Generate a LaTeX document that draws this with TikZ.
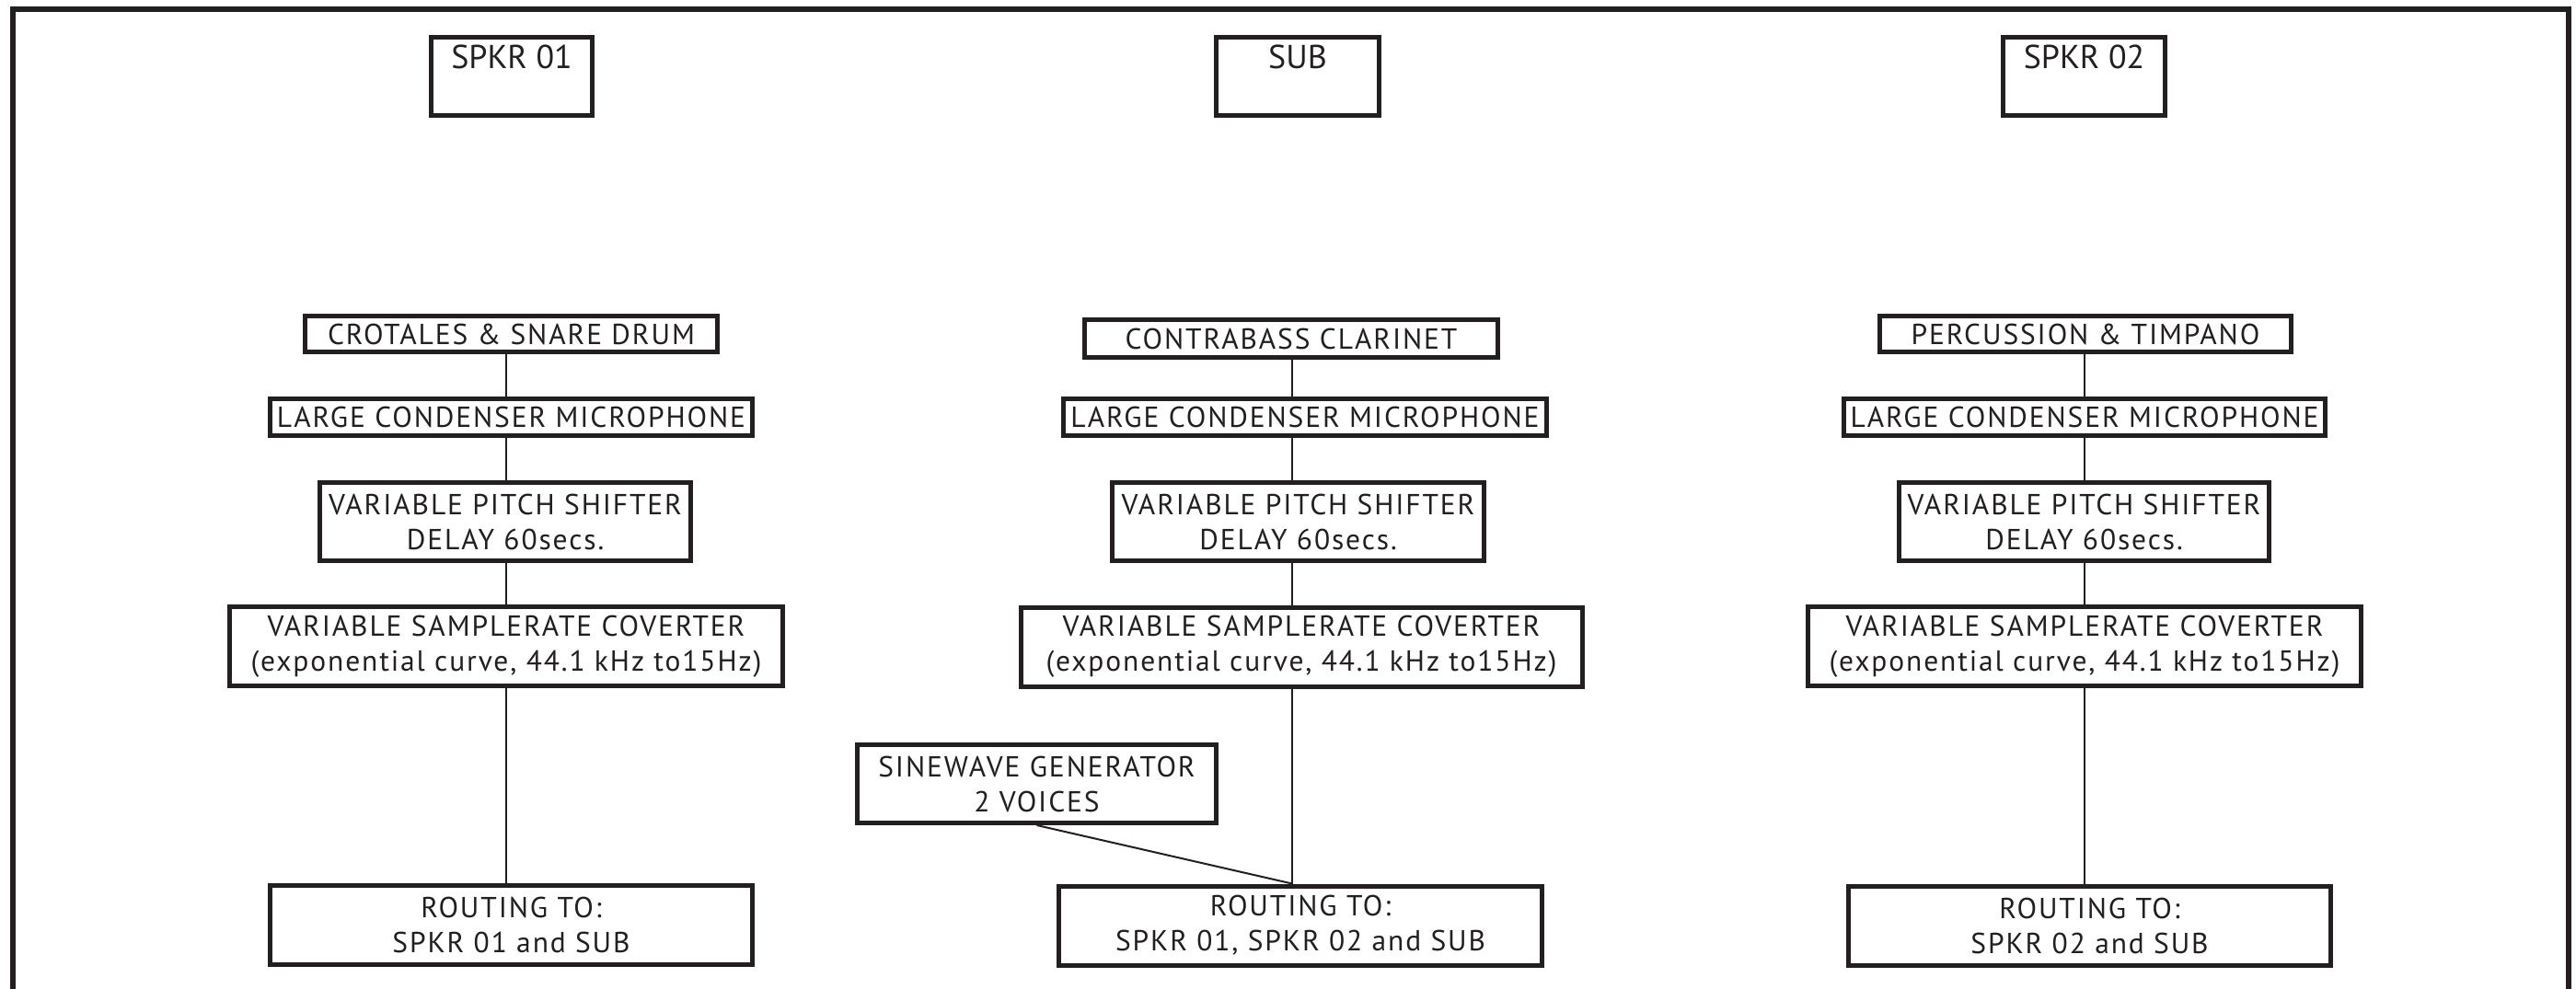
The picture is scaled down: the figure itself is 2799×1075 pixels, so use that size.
\documentclass[tikz,border=0pt]{standalone}
\usepackage{fontspec}
\setmainfont[LetterSpace=6]{PT Sans}
\newfontfamily\spkfam{PT Sans}
\definecolor{ink}{HTML}{231F20}
\newcommand\flowfont{\fontsize{31.5}{38}\selectfont}
\newcommand\spkfont{\spkfam\fontsize{36}{40}\selectfont}
\begin{document}
\begin{tikzpicture}[x=1pt,y=-1pt,
  box/.style={draw=ink, line width=5pt, inner sep=0pt, align=center, text=ink, font=\flowfont},
  onebox/.style={box, minimum height=40pt},
  twobox/.style={box, minimum height=86pt},
  topbox/.style={box, font=\spkfont, text height=34.5pt, text depth=50.5pt},
  wire/.style={draw=ink, line width=2pt},
  frame/.style={draw=ink, line width=6pt}]
\useasboundingbox (0,0) rectangle (2799,1075);
% frame
\coordinate (fbl) at (14,1080);
\coordinate (ftl) at (14,10);
\coordinate (ftr) at (2791,10);
\coordinate (fbr) at (2791,1080);
\draw[frame] (fbl) -- (ftl) -- (ftr) -- (fbr);
% top boxes
\node[topbox, minimum width=175pt] (spk1) at (556,83) {SPKR 01};
\node[topbox, minimum width=177pt] (sub) at (1410,83) {SUB};
\node[topbox, minimum width=176pt] (spk2) at (2264.5,83) {SPKR 02};
% column lines
\coordinate (c1) at (550,0);
\coordinate (c2) at (1404,0);
\coordinate (c3) at (2265,0);
% left column
\node[onebox, minimum width=448pt, minimum height=39pt] (crot) at (555.5,363) {CROTALES \& SNARE DRUM};
\node[onebox, minimum width=524pt] (lcm1) at (555.5,453.5) {LARGE CONDENSER MICROPHONE};
\node[twobox, minimum width=403pt, minimum height=85pt] (vps1) at (549,567) {VARIABLE PITCH SHIFTER\\DELAY 60secs.};
\node[twobox, minimum width=601pt] (vsc1) at (550,702.5) {VARIABLE SAMPLERATE COVERTER\\(exponential curve, 44.1 kHz to15Hz)};
\node[twobox, minimum width=524pt] (rt1) at (555.5,1005.5) {ROUTING TO:\\SPKR 01 and SUB};
% middle column
\node[onebox, minimum width=449pt, minimum height=41pt] (cb) at (1403,368) {CONTRABASS CLARINET};
\node[onebox, minimum width=525pt] (lcm2) at (1418,453.5) {LARGE CONDENSER MICROPHONE};
\node[twobox, minimum width=404pt, minimum height=85pt] (vps2) at (1410.5,567) {VARIABLE PITCH SHIFTER\\DELAY 60secs.};
\node[twobox, minimum width=610pt] (vsc2) at (1414,703) {VARIABLE SAMPLERATE COVERTER\\(exponential curve, 44.1 kHz to15Hz)};
\node[twobox, minimum width=390pt, minimum height=85pt] (sine) at (1126.5,852) {SINEWAVE GENERATOR\\2 VOICES};
\node[twobox, minimum width=525pt] (rt2) at (1413,1006) {ROUTING TO:\\SPKR 01, SPKR 02 and SUB};
% right column
\node[onebox, minimum width=447pt, minimum height=39pt] (perc) at (2266,363) {PERCUSSION \& TIMPANO};
\node[onebox, minimum width=523pt] (lcm3) at (2265,453.5) {LARGE CONDENSER MICROPHONE};
\node[twobox, minimum width=402pt, minimum height=85pt] (vps3) at (2264.5,567) {VARIABLE PITCH SHIFTER\\DELAY 60secs.};
\node[twobox, minimum width=601pt] (vsc3) at (2265,702.5) {VARIABLE SAMPLERATE COVERTER\\(exponential curve, 44.1 kHz to15Hz)};
\node[twobox, minimum width=524pt] (rt3) at (2270.5,1006) {ROUTING TO:\\SPKR 02 and SUB};
% connectors
\draw[wire] (crot.south -| c1) -- (lcm1.north -| c1);
\draw[wire] (lcm1.south -| c1) -- (vps1.north -| c1);
\draw[wire] (vps1.south -| c1) -- (vsc1.north -| c1);
\draw[wire] (vsc1.south -| c1) -- (rt1.north -| c1);
\draw[wire] (cb.south -| c2) -- (lcm2.north -| c2);
\draw[wire] (lcm2.south -| c2) -- (vps2.north -| c2);
\draw[wire] (vps2.south -| c2) -- (vsc2.north -| c2);
\draw[wire] (vsc2.south -| c2) -- (rt2.north -| c2);
\draw[wire] (sine.south) -- (rt2.north -| c2);
\draw[wire] (perc.south -| c3) -- (lcm3.north -| c3);
\draw[wire] (lcm3.south -| c3) -- (vps3.north -| c3);
\draw[wire] (vps3.south -| c3) -- (vsc3.north -| c3);
\draw[wire] (vsc3.south -| c3) -- (rt3.north -| c3);
\end{tikzpicture}
\end{document}
